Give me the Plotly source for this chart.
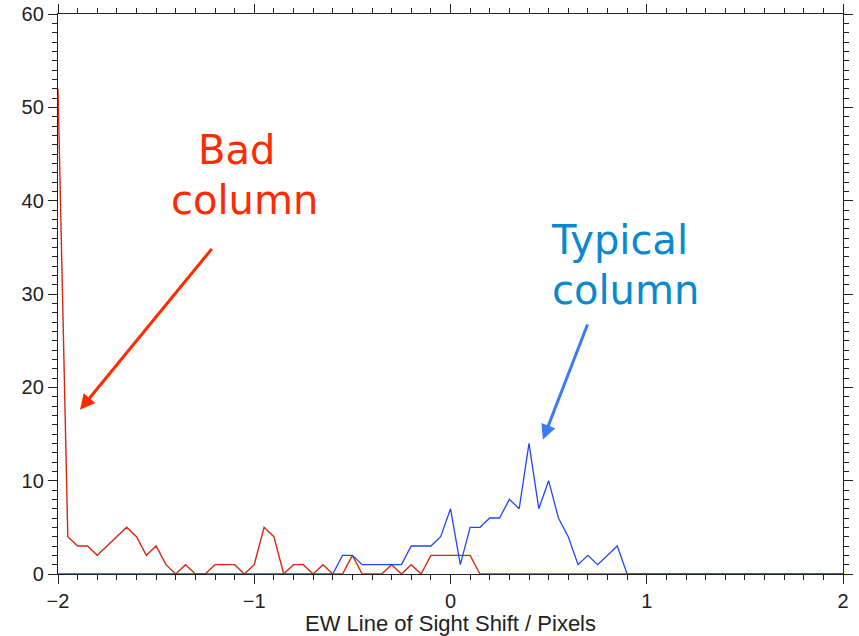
import numpy as np
import plotly.graph_objects as go

# Histogram bins of the east-west line-of-sight shift (pixels), 0.05 px wide
shift_bins = np.round(np.arange(-2.0, 2.0001, 0.05), 2).tolist()

# Counts per bin for a bad detector column
bad_column_counts = [
    52, 4, 3, 3, 2, 3, 4, 5, 4, 2, 3, 1, 0, 1, 0, 0, 1, 1, 1, 0, 1,
    5, 4, 0, 1, 1, 0, 1, 0, 0, 2, 0, 0, 0, 1, 0, 1, 0, 2, 2, 2, 2, 2,
] + [0] * 38

# Counts per bin for a typical detector column
typical_column_counts = [0] * 29 + [
    2, 2, 1, 1, 1, 1, 1, 3, 3, 3, 4, 7, 1, 5, 5, 6, 6, 8, 7, 14,
    7, 10, 6, 4, 1, 2, 1, 2, 3,
] + [0] * 23

x_tick_vals = [-2, -1, 0, 1, 2]
x_tick_text = ["\u22122", "\u22121", "0", "1", "2"]
y_tick_vals = [0, 10, 20, 30, 40, 50, 60]
y_tick_text = ["0", "10", "20", "30", "40", "50", "60"]

AXIS_FONT = "Liberation Sans Narrow, Liberation Sans, Arial, sans-serif"
NOTE_FONT = "DejaVu Sans, Open Sans, sans-serif"

fig = go.Figure()
fig.add_trace(go.Scatter(
    x=shift_bins, y=bad_column_counts, mode="lines",
    line=dict(color="#d42a12", width=1.4), name="Bad column",
))
fig.add_trace(go.Scatter(
    x=shift_bins, y=typical_column_counts, mode="lines",
    line=dict(color="#2346f5", width=1.3), name="Typical column",
))

# Labels and arrows pointing at each curve
notes = [
    ("Bad", -1.088, 45.4, "#ff2a00"),
    ("column", -1.052, 40.1, "#ff2a00"),
    ("Typical", 0.859, 35.8, "#0a88d0"),
    ("column", 0.894, 30.4, "#0a88d0"),
]
for text, x, y, color in notes:
    fig.add_annotation(
        x=x, y=y, xref="x", yref="y", text=text, showarrow=False,
        font=dict(family=NOTE_FONT, size=40, color=color),
        xanchor="center", yanchor="middle",
    )

arrows = [
    (-1.888, 17.6, -1.210, 35.0, "#ff2a00"),
    (0.471, 14.4, 0.701, 26.9, "#3b7cf2"),
]
for hx, hy, tx, ty, color in arrows:
    fig.add_annotation(
        x=hx, y=hy, ax=tx, ay=ty, xref="x", yref="y", axref="x", ayref="y",
        text="", showarrow=True, arrowhead=2, arrowsize=1.0, arrowwidth=3,
        arrowcolor=color, standoff=0,
    )

fig.update_layout(
    width=859, height=636,
    margin=dict(l=58, r=16, t=14, b=62),
    paper_bgcolor="white", plot_bgcolor="white",
    showlegend=False,
    font=dict(family=AXIS_FONT, size=19, color="#222222"),
)
fig.update_xaxes(
    range=[-2, 2], tickvals=x_tick_vals, ticktext=x_tick_text,
    showgrid=False, zeroline=False, automargin=False,
    showline=True, linecolor="#222222", linewidth=1.3, mirror="allticks",
    ticks="outside", ticklen=9, tickwidth=1.2, tickcolor="#222222",
    minor=dict(dtick=0.1, tick0=0, ticks="outside", ticklen=5, tickwidth=1, tickcolor="#222222", showgrid=False),
    title=dict(text="EW Line of Sight Shift / Pixels", standoff=6, font=dict(size=22)),
    tickfont=dict(size=20),
)
fig.update_yaxes(
    range=[0, 60], tickvals=y_tick_vals, ticktext=y_tick_text,
    showgrid=False, zeroline=False, automargin=False,
    showline=True, linecolor="#222222", linewidth=1.3, mirror="allticks",
    ticks="outside", ticklen=9, tickwidth=1.2, tickcolor="#222222",
    minor=dict(dtick=1, tick0=0, ticks="outside", ticklen=5, tickwidth=1, tickcolor="#222222", showgrid=False),
    tickfont=dict(size=20),
)

fig.write_html("out.html")
